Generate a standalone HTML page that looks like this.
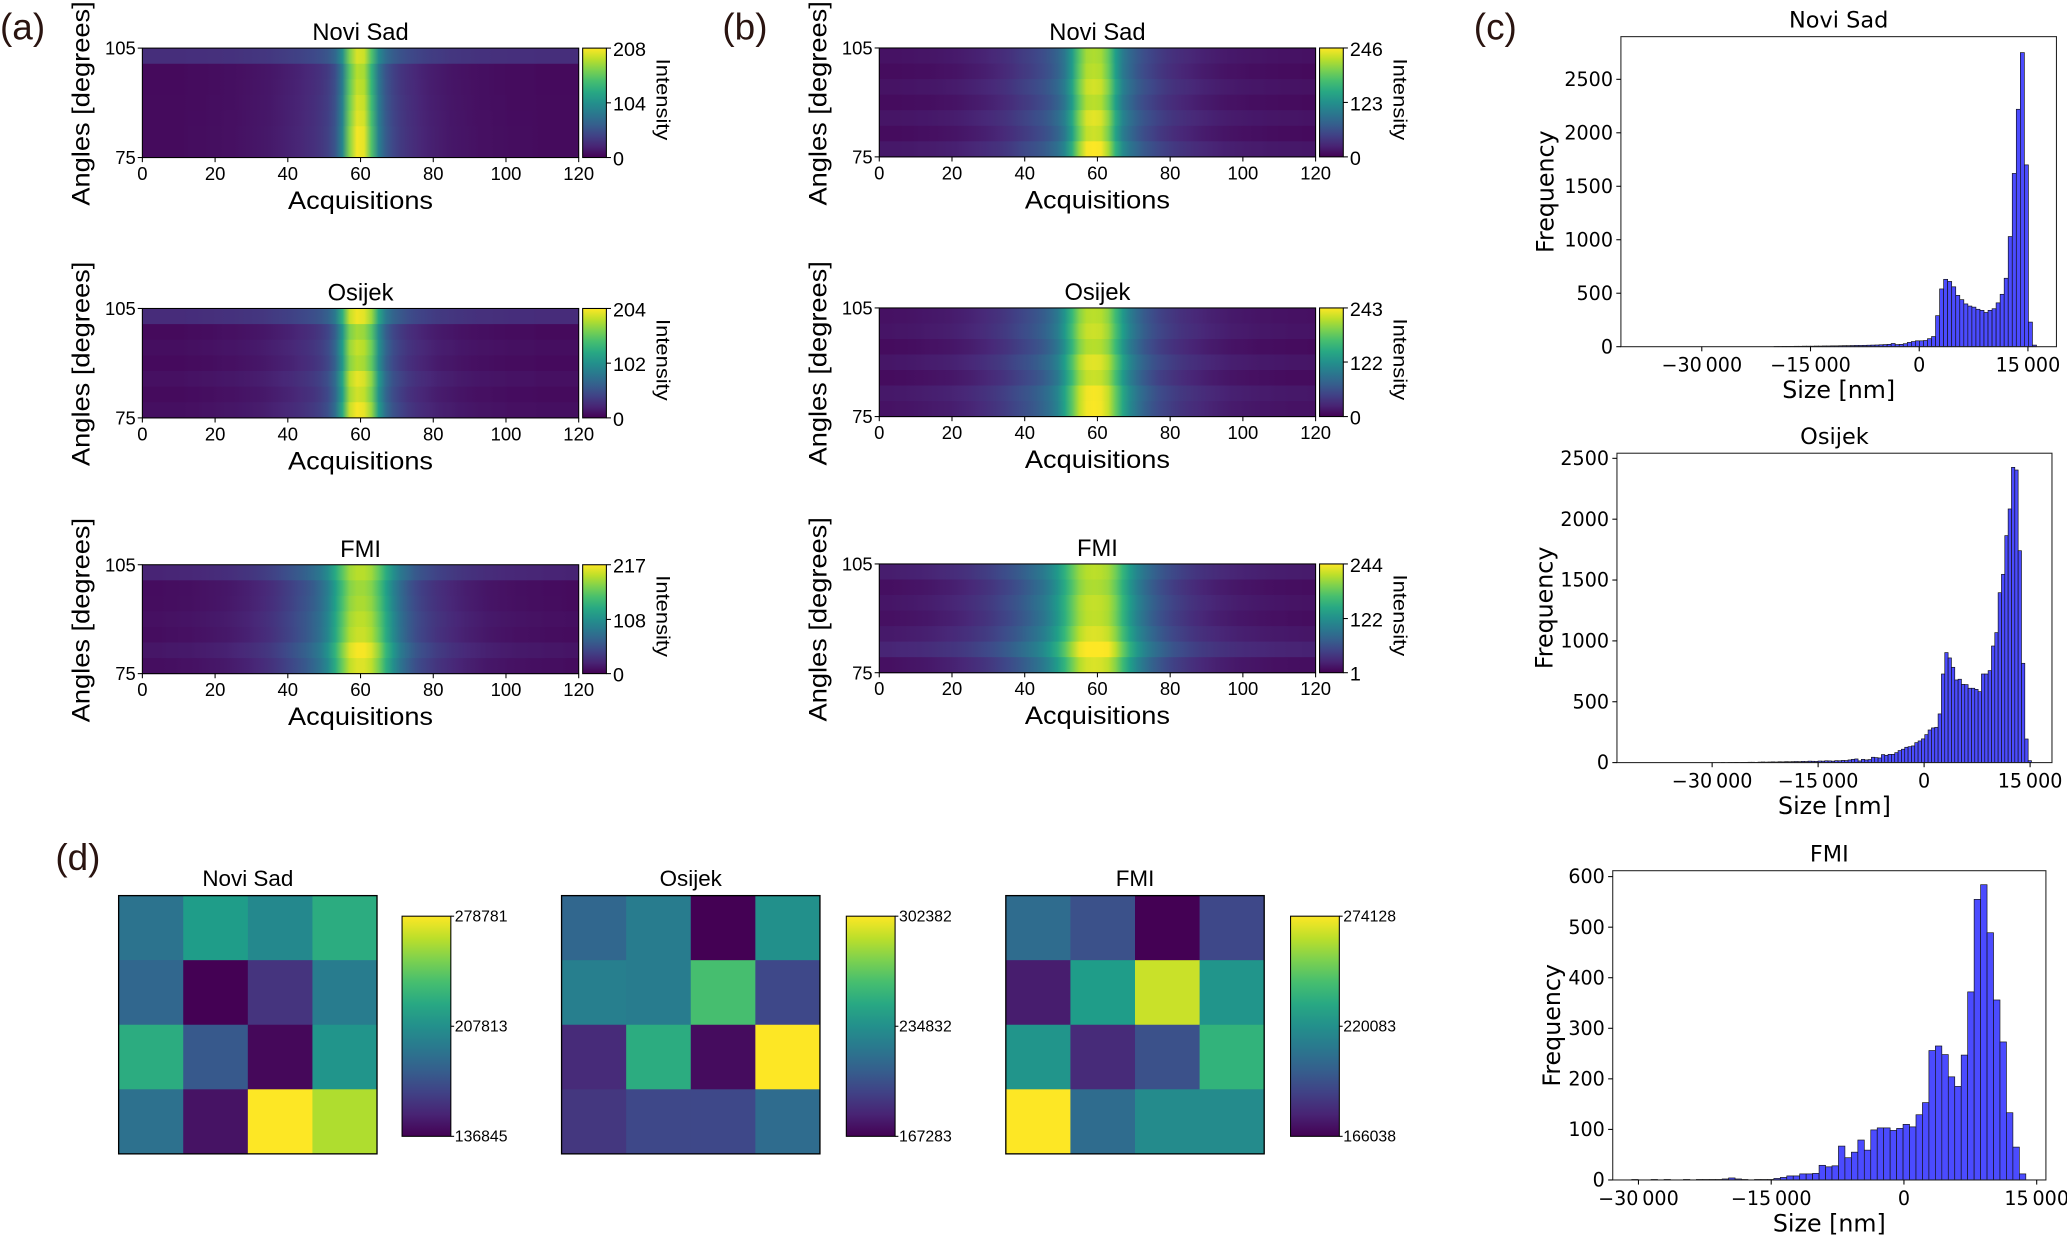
<!DOCTYPE html>
<html><head><meta charset="utf-8">
<style>html,body{margin:0;padding:0;background:#fff;width:2067px;height:1235px;overflow:hidden}svg{display:block}</style>
</head><body>
<svg id="fig" width="2067" height="1235" viewBox="0 0 1568 936.85" preserveAspectRatio="none" xmlns="http://www.w3.org/2000/svg">
<defs id="defs"></defs>
<rect x="0" y="0" width="1568" height="937" fill="#fff"/>
<text x="0" y="30" font-family="Liberation Sans, sans-serif" font-size="28" fill="#2a1410">(a)</text>
<text x="548" y="30" font-family="Liberation Sans, sans-serif" font-size="28" fill="#2a1410">(b)</text>
<text x="1118" y="30" font-family="Liberation Sans, sans-serif" font-size="28" fill="#2a1410">(c)</text>
<text x="42" y="660" font-family="Liberation Sans, sans-serif" font-size="28" fill="#2a1410">(d)</text>
</svg>
<script>
// ---------- data ----------
const acqTicks = [0,20,40,60,80,100,120];
const a1Profile = [6,6,6,6,6,6,7,7,7,8, 8,9,9,10,11,12,13,14,16,18, 20,22,25,28,33,40,55,95,170,205, 200,150,90,60,45,36,30,26,22,19, 17,15,13,12,11,10,9,9,8,8, 7,7,7,7,6,6,6,6,6,6];
const a1Gain = [0.85,0.9,0.92,0.95,0.97,1.0,1.0];
const a1Add = [22,0,0,0,0,0,0];
const a1Ticks = [0,104,208];
const a2Profile = [6,6,6,6,6,6,7,7,8,8, 9,10,10,11,12,13,14,16,18,20, 22,25,28,32,38,48,70,120,185,200, 195,170,110,70,50,40,32,27,23,20, 17,15,14,12,11,10,9,9,8,8, 7,7,7,7,6,6,6,6,6,6];
const a2Gain = [0.9,0.88,0.92,0.9,0.97,0.95,1.0];
const a2Add = [20,0,2,0,3,0,2];
const a2Ticks = [0,102,204];
const a3Profile = [8,8,8,9,9,10,10,11,12,13, 14,15,17,19,21,24,27,31,36,42, 48,55,62,72,85,105,135,170,200,210, 210,200,175,140,110,85,68,55,46,40, 34,30,26,23,20,18,16,14,13,12, 11,10,10,9,9,8,8,8,7,7];
const a3Gain = [0.85,0.88,0.9,0.92,0.95,1.0,0.98];
const a3Add = [15,0,0,2,0,5,0];
const a3Ticks = [0,108,217];
const b1Profile = [8,8,8,9,9,10,10,11,12,13, 14,16,18,20,22,25,28,32,37,43, 48,54,60,70,82,105,145,200,235,240, 235,205,150,110,88,72,60,52,44,38, 33,29,26,23,20,18,16,14,13,12, 11,10,10,9,9,8,8,8,7,7];
const b1Gain = [0.88,0.92,0.94,0.92,0.96,0.95,1.0];
const b1Add = [5,0,5,0,6,0,8];
const b1Ticks = [0,123,246];
const b2Profile = [8,8,9,9,10,11,12,13,14,15, 17,19,21,24,27,31,35,40,46,52, 58,65,74,86,104,135,175,215,235,238, 235,218,180,140,110,88,72,60,50,44, 38,33,29,26,23,20,18,16,14,13, 12,11,10,10,9,9,8,8,8,7];
const b2Gain = [0.9,0.92,0.91,0.95,0.94,0.98,1.0];
const b2Add = [4,6,0,7,0,8,4];
const b2Ticks = [0,122,243];
const b3Profile = [12,12,13,14,15,16,17,19,21,23, 25,28,31,35,39,44,50,56,63,71, 80,90,102,118,138,165,195,222,235,238, 236,228,205,172,140,115,96,80,68,58, 50,44,38,33,29,26,23,21,19,17, 16,15,14,13,12,12,11,11,10,10];
const b3Gain = [0.88,0.9,0.92,0.93,0.95,1.0,0.97];
const b3Add = [10,0,4,0,6,14,0];
const b3Ticks = [1,122,244];

const c1Counts = [2,2,3,3,3,4,4,5,5,5,6,6,7,7,8,8,9,10,10,11,12,12,13,14,15,16,18,20,22, 30,20,22,28,40,48,55,55,58,75,95,290,540,630,610,560,480,440,400,380,370,350,340,320,340,355,410,490,640,1030,1620,2220,2750,1700,230,15];
const c1Start = -20027, c1Width = 557;
const c1YTicks = [0,500,1000,1500,2000,2500];
const c2Counts = [0,0,1,0,1,1,2,1,2,2,3,3,2,4,5,4,5,6,5,7,6,8,7,8,9,8,10,9,12,11,10,13,12,15,14,12,16,15,18,17, 22,27,30,14,27,22,25,44,41,38,66,60,68,68,82,99,110,126,131,137,164,178,195,230,268,285,290,400, 728,904,860,783,679,685,643,641,611,611,602,583,728,728,756,958,1068,1396,1547,1865,2084,2426,2404,1741,816,194,16];
const c2Start = -29643, c2Width = 472;
const c2YTicks = [0,500,1000,1500,2000,2500];
const c3Counts = [1,0,0,1,0,1,0,0,1,0,1,1,1,1,2,4,2,1,0,1,1,1, 3,5,8,8,12,12,13,29,26,28,67,44,55,79,59,99,103,103,98,102,110,105,129,153,256,265,248,204,185,247,372,555,584,489,356,273,133,65,12];
const c3Start = -30760, c3Width = 730;
const c3YTicks = [0,100,200,300,400,500,600];
const sizeTicks = [-30000,-15000,0,15000];
const sizeTickLabels = ['\u221230\u2009000','\u221215\u2009000','0','15\u2009000'];

const dNoviSad = [190781,214910,203555,224845, 183684,136845,158135,196458, 224845,176587,139684,210652, 189361,143942,278781,261749];
const dNoviSadRange = [136845,278781];
const dOsijek = [211866,224025,167283,234833, 225376,224025,261852,197005, 183495,251044,171336,302382, 188899,197005,197005,214568];
const dOsijekRange = [167283,302382];
const dFMI = [203870,193061,166038,189818, 174685,225488,265481,222245, 222245,179009,193061,236297, 274128,203870,217921,217921];
const dFMIRange = [166038,274128];

// ---------- helpers ----------
const NS='http://www.w3.org/2000/svg';
const svg=document.getElementById('fig');
const defs=document.getElementById('defs');
const VIR=['#440154','#482878','#3e4989','#31688e','#26828e','#1f9e89','#35b779','#6ece58','#b5de2b','#fde725'];
function hx(c){return [parseInt(c.slice(1,3),16),parseInt(c.slice(3,5),16),parseInt(c.slice(5,7),16)];}
function vir(t){t=Math.max(0,Math.min(1,t));const n=VIR.length-1;const i=Math.min(n-1,Math.floor(t*n));const f=t*n-i;const a=hx(VIR[i]),b=hx(VIR[i+1]);return 'rgb('+a.map((v,k)=>Math.round(v+(b[k]-v)*f)).join(',')+')';}
function mk(tag,attrs,parent){const e=document.createElementNS(NS,tag);for(const k in attrs)e.setAttribute(k,attrs[k]);(parent||svg).appendChild(e);return e;}
const SANS='Liberation Sans, sans-serif';
const DJ='DejaVu Sans, Liberation Sans, sans-serif';
let gid=0;

function drawIntensity(id,box,profile,gain,add,ticks,title){
  const g=mk('g',{});
  
  
  const {x0,x1,y0,y1}=box;
  const vmin=ticks[0],vmax=ticks[ticks.length-1];
  const xS=a=>x0+a/120*(x1-x0);
  const nR=gain.length,rh=(y1-y0)/nR;
  const bw=120/profile.length;
  for(let r=0;r<nR;r++){
    const gr=mk('linearGradient',{id:'g'+(gid++),x1:'0',x2:'1',y1:'0',y2:'0'},defs);
    profile.forEach((p,i)=>{
      const v=p*gain[r]+add[r];
      mk('stop',{offset:((xS((i+0.5)*bw)-x0)/(x1-x0)).toFixed(4),'stop-color':vir((v-vmin)/(vmax-vmin))},gr);
    });
    const row=mk('rect',{x:x0,y:y0+r*rh,width:x1-x0,height:rh+0.4,fill:'url(#'+gr.id+')'},g);
    
    
  }
  mk('rect',{x:x0,y:y0,width:x1-x0,height:y1-y0,fill:'none',stroke:'#000','stroke-width':0.8},g);
  acqTicks.forEach(t=>{
    mk('line',{x1:xS(t),x2:xS(t),y1:y1,y2:y1+3.5,stroke:'#000','stroke-width':0.8},g);
    const tl=mk('text',{x:xS(t),y:y1+17,'text-anchor':'middle','font-family':SANS,'font-size':14},g);
    tl.textContent=t;
    
    
  });
  [[105,y0],[75,y1]].forEach(([v,y])=>{
    mk('line',{x1:x0-3.5,x2:x0,y1:y,y2:y,stroke:'#000','stroke-width':0.8},g);
    const tl=mk('text',{x:x0-5,y:y+5,'text-anchor':'end','font-family':SANS,'font-size':14},g);
    tl.textContent=v;
    
    
  });
  const tt=mk('text',{x:(x0+x1)/2,y:y0-6,'text-anchor':'middle','font-family':SANS,'font-size':18},g);
  tt.textContent=title;
  
  
  const xl=mk('text',{x:(x0+x1)/2,y:y1+39,'text-anchor':'middle','font-family':SANS,'font-size':19,textLength:110,lengthAdjust:'spacingAndGlyphs'},g);
  xl.textContent='Acquisitions';
  
  
  const yl=mk('text',{x:0,y:0,'text-anchor':'middle','font-family':SANS,'font-size':19,textLength:155,lengthAdjust:'spacingAndGlyphs',transform:'translate('+(x0-40)+','+(y0+42)+') rotate(-90)'},g);
  yl.textContent='Angles [degrees]';
  
  
  const cx0=x1+3,cx1=x1+21;
  const cg=mk('linearGradient',{id:'g'+(gid++),x1:'0',x2:'0',y1:'1',y2:'0'},defs);
  for(let i=0;i<=10;i++)mk('stop',{offset:i/10,'stop-color':vir(i/10)},cg);
  const cb=mk('rect',{x:cx0,y:y0,width:cx1-cx0,height:y1-y0,fill:'url(#'+cg.id+')',stroke:'#000','stroke-width':0.8},g);
  
  
  const cS=v=>y1-(v-vmin)/(vmax-vmin)*(y1-y0);
  ticks.forEach(v=>{
    mk('line',{x1:cx1,x2:cx1+3.5,y1:cS(v),y2:cS(v),stroke:'#000','stroke-width':0.8},g);
    const tl=mk('text',{x:cx1+5,y:cS(v)+6,'font-family':SANS,'font-size':15},g);
    tl.textContent=v;
    
    
  });
  const il=mk('text',{x:0,y:0,'text-anchor':'middle','font-family':SANS,'font-size':15,textLength:62,lengthAdjust:'spacingAndGlyphs',transform:'translate('+(cx1+38)+','+(y0+39)+') rotate(90)'},g);
  il.textContent='Intensity';
  
  
}

drawIntensity('a-novi-sad',{x0:108,x1:439,y0:36.5,y1:119.5},a1Profile,a1Gain,a1Add,a1Ticks,'Novi Sad');
drawIntensity('a-osijek',{x0:108,x1:439,y0:234,y1:317},a2Profile,a2Gain,a2Add,a2Ticks,'Osijek');
drawIntensity('a-fmi',{x0:108,x1:439,y0:428.4,y1:511},a3Profile,a3Gain,a3Add,a3Ticks,'FMI');
drawIntensity('b-novi-sad',{x0:667,x1:998,y0:36.4,y1:119},b1Profile,b1Gain,b1Add,b1Ticks,'Novi Sad');
drawIntensity('b-osijek',{x0:667,x1:998,y0:233.6,y1:316},b2Profile,b2Gain,b2Add,b2Ticks,'Osijek');
drawIntensity('b-fmi',{x0:667,x1:998,y0:427.8,y1:510.3},b3Profile,b3Gain,b3Add,b3Ticks,'FMI');

function drawHist(id,fr,xdom,ymax,start,width,counts,yticks,title,ylOff){
  const g=mk('g',{});
  
  
  const xS=v=>fr.x0+(v-xdom[0])/(xdom[1]-xdom[0])*(fr.x1-fr.x0);
  const yS=v=>fr.y1-v/ymax*(fr.y1-fr.y0);
  counts.forEach((c,i)=>{
    const l=start+i*width;
    const b=mk('rect',{x:xS(l),y:yS(c),width:xS(l+width)-xS(l),height:fr.y1-yS(c),fill:'#4b4bff',stroke:'#111','stroke-width':0.5},g);
    
    
  });
  mk('rect',{x:fr.x0,y:fr.y0,width:fr.x1-fr.x0,height:fr.y1-fr.y0,fill:'none',stroke:'#222','stroke-width':0.8},g);
  sizeTicks.forEach((t,i)=>{
    mk('line',{x1:xS(t),x2:xS(t),y1:fr.y1,y2:fr.y1+3.5,stroke:'#000','stroke-width':0.8},g);
    const tl=mk('text',{x:xS(t),y:fr.y1+19,'text-anchor':'middle','font-family':DJ,'font-size':14.5},g);
    tl.textContent=sizeTickLabels[i];
    
    
  });
  yticks.forEach(t=>{
    mk('line',{x1:fr.x0-3.5,x2:fr.x0,y1:yS(t),y2:yS(t),stroke:'#000','stroke-width':0.8},g);
    const tl=mk('text',{x:fr.x0-6,y:yS(t)+5,'text-anchor':'end','font-family':DJ,'font-size':14.5},g);
    tl.textContent=t;
    
    
  });
  const tt=mk('text',{x:(fr.x0+fr.x1)/2,y:fr.y0-7,'text-anchor':'middle','font-family':DJ,'font-size':17},g);
  tt.textContent=title;
  
  
  const xl=mk('text',{x:(fr.x0+fr.x1)/2,y:fr.y1+39,'text-anchor':'middle','font-family':DJ,'font-size':18},g);
  xl.textContent='Size [nm]';
  
  
  const yl=mk('text',{x:0,y:0,'text-anchor':'middle','font-family':DJ,'font-size':18,transform:'translate('+(fr.x0-ylOff)+','+((fr.y0+fr.y1)/2)+') rotate(-90)'},g);
  yl.textContent='Frequency';
  
  
}
drawHist('c-novi-sad',{x0:1229.6,x1:1560,y0:27.8,y1:263},[-41160,18934],2899,c1Start,c1Width,c1Counts,c1YTicks,'Novi Sad',51);
drawHist('c-osijek',{x0:1226.6,x1:1556.6,y0:343.8,y1:578.5},[-43470,18097],2542,c2Start,c2Width,c2Counts,c2YTicks,'Osijek',49);
drawHist('c-fmi',{x0:1223.4,x1:1552,y0:660.5,y1:895.1},[-32905,16040],611.7,c3Start,c3Width,c3Counts,c3YTicks,'FMI',40);

function drawGrid(id,hx0,cbx,vals,range,title){
  const g=mk('g',{});
  
  
  const y0=679.4,y1=875.3,w=196,cw=w/4,ch=(y1-y0)/4;
  vals.forEach((v,i)=>{
    const r=Math.floor(i/4),c=i%4;
    const cell=mk('rect',{x:hx0+c*cw,y:y0+r*ch,width:cw+0.3,height:ch+0.3,fill:vir((v-range[0])/(range[1]-range[0]))},g);
    
    
  });
  mk('rect',{x:hx0,y:y0,width:w,height:y1-y0,fill:'none',stroke:'#000','stroke-width':1},g);
  const tt=mk('text',{x:hx0+w/2,y:672,'text-anchor':'middle','font-family':SANS,'font-size':17},g);
  tt.textContent=title;
  
  
  const cy0=695,cy1=862;
  const cg=mk('linearGradient',{id:'g'+(gid++),x1:'0',x2:'0',y1:'1',y2:'0'},defs);
  for(let i=0;i<=10;i++)mk('stop',{offset:i/10,'stop-color':vir(i/10)},cg);
  const cb=mk('rect',{x:cbx,y:cy0,width:37,height:cy1-cy0,fill:'url(#'+cg.id+')',stroke:'#000','stroke-width':0.8},g);
  
  
  const mid=Math.floor((range[0]+range[1])/2);
  [[range[1],cy0+4],[mid,(cy0+cy1)/2+4],[range[0],cy1+4]].forEach(([v,y])=>{
    mk('line',{x1:cbx+37,x2:cbx+39.5,y1:y-4,y2:y-4,stroke:'#000','stroke-width':0.8},g);
    const tl=mk('text',{x:cbx+40,y:y,'font-family':SANS,'font-size':12},g);
    tl.textContent=v;
    
    
  });
}
drawGrid('d-novi-sad',90,305,dNoviSad,dNoviSadRange,'Novi Sad');
drawGrid('d-osijek',426,642,dOsijek,dOsijekRange,'Osijek');
drawGrid('d-fmi',763,979,dFMI,dFMIRange,'FMI');
</script>
</body></html>
